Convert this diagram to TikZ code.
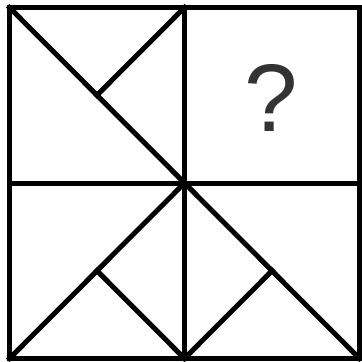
\documentclass[tikz,border=0pt]{standalone}
\usepackage{fontspec}
\setmainfont{Liberation Sans}
\usetikzlibrary{calc}
\definecolor{Ink}  {HTML}{000000}
\definecolor{QGray}{HTML}{333333}
\tikzset{
  edge/.style={
    draw=Ink, line width=5pt, line join=miter, line cap=rect,
  },
  qmark/.style={
    font=\fontsize{96}{96}\selectfont, text=QGray,
    inner sep=0pt,
  },
}

\begin{document}
\begin{tikzpicture}[x=1pt,y=-1pt]
  \useasboundingbox (0,0) rectangle (362,362);

  % corners and centre of the grid
  \coordinate (nw) at (9.5,7.5);
  \coordinate (ne) at (359.5,7.5);
  \coordinate (sw) at (9.5,358.5);
  \coordinate (se) at (359.5,358.5);
  \coordinate (c)  at (184.5,183);
  \coordinate (n)  at (184.5,7.5);
  \coordinate (s)  at (184.5,358.5);
  \coordinate (w)  at (9.5,183);
  \coordinate (e)  at (359.5,183);

  % diagonals with their short strokes
  \foreach \from/\to/\foot in {nw/c/n, c/sw/s, c/se/s}{
    \draw[edge] (\from) -- (\to);
    \draw[edge] (\foot) -- ($(\from)!0.5!(\to)$);
  }

  % grid
  \draw[edge] (nw) rectangle (se);
  \draw[edge] (n) -- (s);
  \draw[edge] (w) -- (e);

  \node[qmark] (q) at (271,98) {?};

\end{tikzpicture}
\end{document}
